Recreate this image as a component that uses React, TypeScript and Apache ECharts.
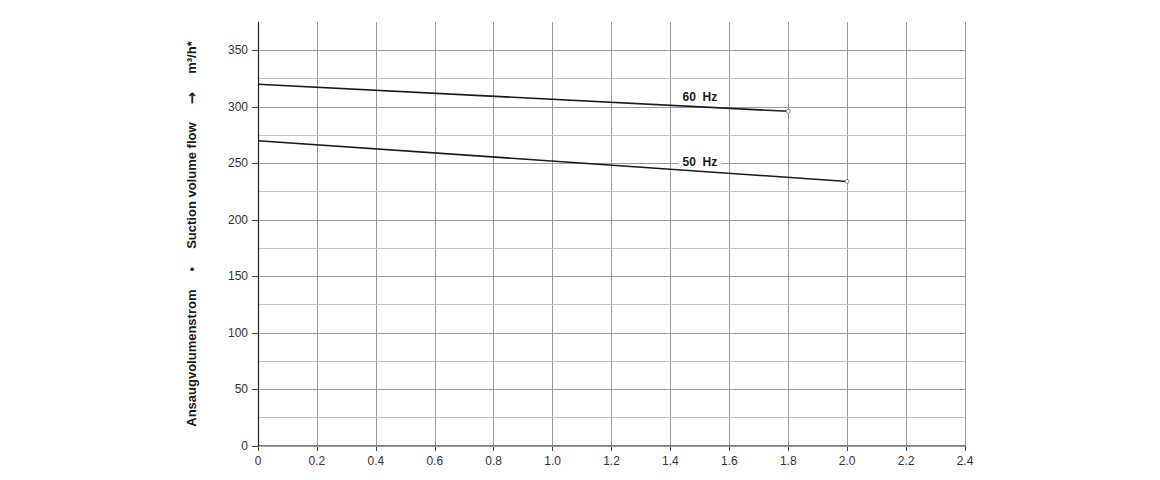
import React, { useEffect, useRef } from "react";
import * as echarts from "echarts";

const xTicks = [0, 0.2, 0.4, 0.6, 0.8, 1.0, 1.2, 1.4, 1.6, 1.8, 2.0, 2.2, 2.4];
const yTickLabels = [0, 50, 100, 150, 200, 250, 300, 350];
const series60Hz: [number, number][] = [
  [0, 320],
  [1.8, 296],
];
const series50Hz: [number, number][] = [
  [0, 270],
  [2.0, 234],
];
const seriesNames = ["60 Hz", "50 Hz"];
const labelCoords: [number, number][] = [
  [1.5, 308.5],
  [1.5, 251],
];
const yAxisTitle = "Ansaugvolumenstrom     •     Suction volume flow     {a|→}     m³/h*";

export default function App() {
  const ref = useRef<HTMLDivElement>(null);
  useEffect(() => {
    if (!ref.current) return;
    const chart = echarts.init(ref.current, undefined, { renderer: "svg" });
    const font = "'Liberation Sans', Arial, Helvetica, sans-serif";
    // minor grid (step 25): hide lines that coincide with majors and the top one
    const minorColors: string[] = [];
    for (let i = 0; i <= 15; i++) {
      minorColors.push(i === 15 || i % 2 === 0 ? "rgba(0,0,0,0)" : "#c4c4c4");
    }
    const mkSeries = (name: string, data: [number, number][], coord: [number, number]) => ({
      type: "line",
      name,
      yAxisIndex: 0,
      data: data.map((d, i) => ({
        value: d,
        symbol: i === data.length - 1 ? "circle" : "none",
      })),
      symbolSize: 4,
      showSymbol: true,
      z: 5,
      lineStyle: { color: "#1a1a1a", width: 1.6 },
      itemStyle: { color: "#fff", borderColor: "#777", borderWidth: 1 },
      emphasis: { disabled: true },
      markPoint: {
        symbol: "circle",
        symbolSize: 0,
        data: [
          {
            coord,
            label: {
              show: true,
              position: "inside",
              formatter: name.replace(" ", "  "),
              color: "#1a1a1a",
              fontFamily: font,
              fontWeight: "bold",
              fontSize: 12,
              backgroundColor: "#fff",
              padding: [0, 4],
            },
          },
        ],
      },
    });
    chart.setOption({
      animation: false,
      backgroundColor: "#fff",
      grid: { left: 258, right: 195, top: 22, bottom: 34 },
      xAxis: {
        type: "value",
        min: 0,
        max: 2.4,
        interval: 0.2,
        axisLine: { show: true, onZero: false, lineStyle: { color: "#555", width: 1.5 } },
        axisTick: { show: true, length: 5, lineStyle: { color: "#444" } },
        axisLabel: {
          color: "#333",
          fontFamily: font,
          fontSize: 12,
          margin: 9,
          customValues: xTicks,
          formatter: (v: number) => (v === 0 ? "0" : v.toFixed(1)),
        },
        splitLine: { show: true, lineStyle: { color: "#9a9a9a", width: 1 } },
      },
      yAxis: [
        {
          type: "value",
          min: 0,
          max: 375,
          interval: 50,
          name: yAxisTitle,
          nameLocation: "middle",
          nameGap: 59,
          nameRotate: 90,
          nameTextStyle: {
            color: "#1a1a1a",
            fontFamily: font,
            fontWeight: "bold",
            fontSize: 13,
            rich: {
              a: {
                fontFamily: "'DejaVu Sans', sans-serif",
                fontSize: 15,
                fontWeight: "bold",
                color: "#1a1a1a",
              },
            },
          },
          axisLine: { show: true, lineStyle: { color: "#222", width: 1.2 } },
          axisTick: {
            show: true,
            length: 6,
            customValues: yTickLabels,
            lineStyle: { color: "#444" },
          },
          axisLabel: {
            color: "#333",
            fontFamily: font,
            fontSize: 12,
            margin: 10,
            customValues: yTickLabels,
            formatter: (v: number) => String(v),
          },
          splitLine: { show: true, lineStyle: { color: "#9a9a9a", width: 1 } },
          z: 3,
        },
        {
          type: "value",
          position: "left",
          min: 0,
          max: 375,
          interval: 25,
          axisLine: { show: false },
          axisTick: { show: false },
          axisLabel: { show: false },
          splitLine: { show: true, lineStyle: { color: minorColors, width: 1 } },
          z: 1,
        },
      ],
      series: [
        mkSeries(seriesNames[0], series60Hz, labelCoords[0]),
        mkSeries(seriesNames[1], series50Hz, labelCoords[1]),
      ],
    });
    return () => chart.dispose();
  }, []);
  return <div ref={ref} style={{ width: 1160, height: 480, position: "absolute", left: 0, top: 0 }} />;
}
